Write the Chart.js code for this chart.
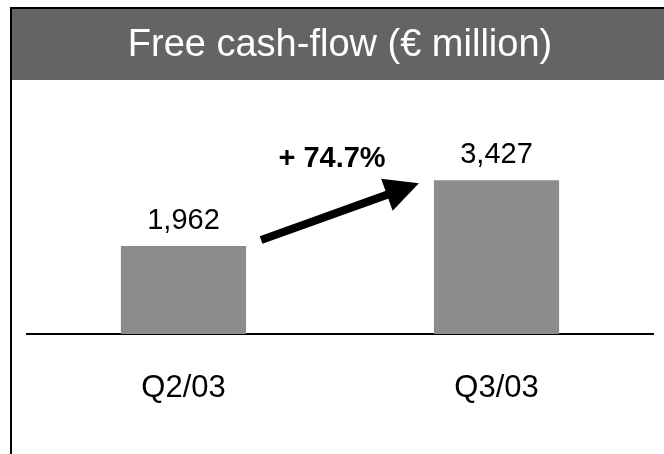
<!DOCTYPE html>
<html><head><meta charset="utf-8">
<script src="https://cdn.jsdelivr.net/npm/chart.js@4"></script>
<style>html,body{margin:0;padding:0;background:#fff;} #wrap{position:relative;width:664px;height:454px;}</style>
</head><body><div id="wrap"><canvas id="c"></canvas></div>
<script>
const categories = ['Q2/03', 'Q3/03'];
const freeCashFlow = [1962, 3427];
const changeLabel = '+ 74.7%';
const titleText = 'Free cash-flow (€ million)';
const yMin = 0;
const yMax = 4000;

const FONT = '"Liberation Sans", Arial, sans-serif';
function fmt(v) { return String(v).replace(/\B(?=(\d{3})+(?!\d))/g, ','); }

function hasFont(name) {
  const c = document.createElement('canvas').getContext('2d');
  c.font = '40px monospace';
  const w1 = c.measureText('Free cash-flow').width;
  c.font = '40px "' + name + '", monospace';
  const w2 = c.measureText('Free cash-flow').width;
  return Math.abs(w1 - w2) > 0.5;
}
const narrow = hasFont('Liberation Sans Narrow');
const titleFont = narrow
  ? { family: '"Liberation Sans Narrow", ' + FONT, size: 42, weight: 'bold' }
  : { family: FONT, size: 38, weight: 'normal' };
const titlePadTop = narrow ? 19 : 23;
const titlePadBottom = 154.6 - titlePadTop - titleFont.size * 1.2;

const frame = {
  id: 'frame',
  beforeDraw(chart) {
    const ctx = chart.ctx;
    ctx.save();
    ctx.fillStyle = '#fff';
    ctx.fillRect(0, 0, chart.width, chart.height);
    ctx.fillStyle = '#000';
    ctx.fillRect(10, 7, chart.width - 10, 2);
    ctx.fillRect(10, 7, 2, chart.height - 7);
    ctx.fillStyle = '#646464';
    ctx.fillRect(12, 9, chart.width - 12, 71);
    ctx.restore();
  }
};

const annot = {
  id: 'annot',
  afterDatasetsDraw(chart) {
    const meta = chart.getDatasetMeta(0);
    const ctx = chart.ctx;
    ctx.save();
    ctx.fillStyle = '#000';
    ctx.font = '29px ' + FONT;
    ctx.textAlign = 'center';
    ctx.textBaseline = 'alphabetic';
    meta.data.forEach((bar, i) => {
      ctx.fillText(fmt(freeCashFlow[i]), bar.x, bar.y - 17);
    });
    const b0 = meta.data[0], b1 = meta.data[1];
    const x0 = b0.x + b0.width / 2 + 15, y0 = b0.y - 6;
    const x1 = b1.x - b1.width / 2 - 15, y1 = b1.y + 3;
    const ang = Math.atan2(y1 - y0, x1 - x0);
    const c = Math.cos(ang), s = Math.sin(ang);
    const headLen = 34, headHalf = 17;
    const bx = x1 - headLen * c, by = y1 - headLen * s;
    ctx.strokeStyle = '#000';
    ctx.lineWidth = 8;
    ctx.lineCap = 'butt';
    ctx.beginPath();
    ctx.moveTo(x0, y0);
    ctx.lineTo(bx + 2 * c, by + 2 * s);
    ctx.stroke();
    ctx.beginPath();
    ctx.moveTo(x1, y1);
    ctx.lineTo(bx + headHalf * s, by - headHalf * c);
    ctx.lineTo(bx - headHalf * s, by + headHalf * c);
    ctx.closePath();
    ctx.fill();
    ctx.font = 'bold 29px ' + FONT;
    ctx.fillText(changeLabel, (b0.x + b1.x) / 2 - 8, b1.y - 13);
    ctx.restore();
  }
};

new Chart(document.getElementById('c'), {
  type: 'bar',
  data: {
    labels: categories,
    datasets: [{
      data: freeCashFlow,
      backgroundColor: '#8c8c8c',
      borderWidth: 0,
      categoryPercentage: 1,
      barPercentage: 0.4
    }]
  },
  options: {
    responsive: true,
    maintainAspectRatio: false,
    animation: false,
    devicePixelRatio: 1,
    layout: { padding: { left: 27, right: 11, top: 0, bottom: 0 } },
    plugins: {
      legend: { display: false },
      tooltip: { enabled: false },
      title: {
        display: true,
        text: titleText,
        color: '#fff',
        font: titleFont,
        padding: { top: titlePadTop, bottom: titlePadBottom }
      }
    },
    scales: {
      x: {
        grid: { display: true, drawOnChartArea: false, drawTicks: false },
        border: { display: true, color: '#000', width: 2 },
        ticks: { color: '#000', font: { family: FONT, size: 31 }, padding: 36 },
        afterFit(scale) { scale.height = 120; }
      },
      y: { display: false, min: yMin, max: yMax }
    }
  },
  plugins: [frame, annot]
});
</script>
</body></html>
